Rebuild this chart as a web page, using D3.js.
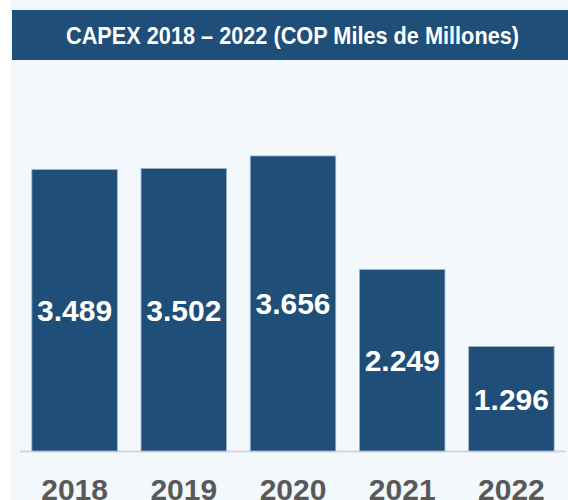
<!DOCTYPE html>
<html>
<head>
<meta charset="utf-8">
<script src="https://cdn.jsdelivr.net/npm/d3@7"></script>
<style>
  html, body { margin: 0; padding: 0; background: #ffffff; }
  svg { display: block; }
</style>
</head>
<body>
<svg id="chart" width="568" height="500"></svg>
<script>
const title = "CAPEX 2018 – 2022 (COP Miles de Millones)";
const categories = ["2018", "2019", "2020", "2021", "2022"];
const values = [3489, 3502, 3656, 2249, 1296];

const W = 568, H = 500;
const svg = d3.select("#chart");

const locale = d3.formatLocale({ decimal: ",", thousands: ".", grouping: [3], currency: ["$", ""] });
const fmt = locale.format(",d");

// background
svg.append("rect").attr("x", 10).attr("y", 0).attr("width", W - 10).attr("height", H).attr("fill", "#f3f8fc");

// title bar
svg.append("rect").attr("x", 12).attr("y", 10).attr("width", W - 12).attr("height", 50).attr("fill", "#1f4e79");
svg.append("text")
  .attr("x", 292.5).attr("y", 44)
  .attr("text-anchor", "middle")
  .attr("fill", "#ffffff")
  .attr("font-family", "Liberation Sans, Arial, sans-serif")
  .attr("font-weight", "bold")
  .attr("font-size", 24.5)
  .attr("textLength", 453)
  .attr("lengthAdjust", "spacingAndGlyphs")
  .text(title);

const x = d3.scaleBand().domain(categories).range([20, 566]).paddingInner(0.217).paddingOuter(0.1085);
const y = d3.scaleLinear().domain([0, 4000]).range([451, 128.2]);

// baseline
svg.append("line")
  .attr("x1", 20).attr("x2", 566)
  .attr("y1", y(0) + 0.5).attr("y2", y(0) + 0.5)
  .attr("stroke", "#d3d6da").attr("stroke-width", 2);

// bars
svg.selectAll("rect.bar").data(values).enter().append("rect")
  .attr("class", "bar")
  .attr("x", (d, i) => x(categories[i]))
  .attr("y", d => y(d))
  .attr("width", x.bandwidth())
  .attr("height", d => y(0) - y(d))
  .attr("fill", "#1f4e79")
  .attr("stroke", "#9fb6cc")
  .attr("stroke-width", 0.8);

// value labels
svg.selectAll("text.val").data(values).enter().append("text")
  .attr("class", "val")
  .attr("x", (d, i) => x(categories[i]) + x.bandwidth() / 2)
  .attr("y", d => (y(d) + y(0)) / 2 + 11)
  .attr("text-anchor", "middle")
  .attr("fill", "#ffffff")
  .attr("font-family", "Liberation Sans, Arial, sans-serif")
  .attr("font-weight", "bold")
  .attr("font-size", 30)
  .text(d => fmt(d));

// x axis labels
const xAxis = d3.axisBottom(x).tickSize(0).tickPadding(0);
const gx = svg.append("g").attr("transform", "translate(0,0)").call(xAxis);
gx.select(".domain").remove();
gx.selectAll("text")
  .attr("y", 500)
  .attr("dy", null)
  .attr("fill", "#595959")
  .attr("font-family", "Liberation Sans, Arial, sans-serif")
  .attr("font-weight", "bold")
  .attr("font-size", 30);
</script>
</body>
</html>
